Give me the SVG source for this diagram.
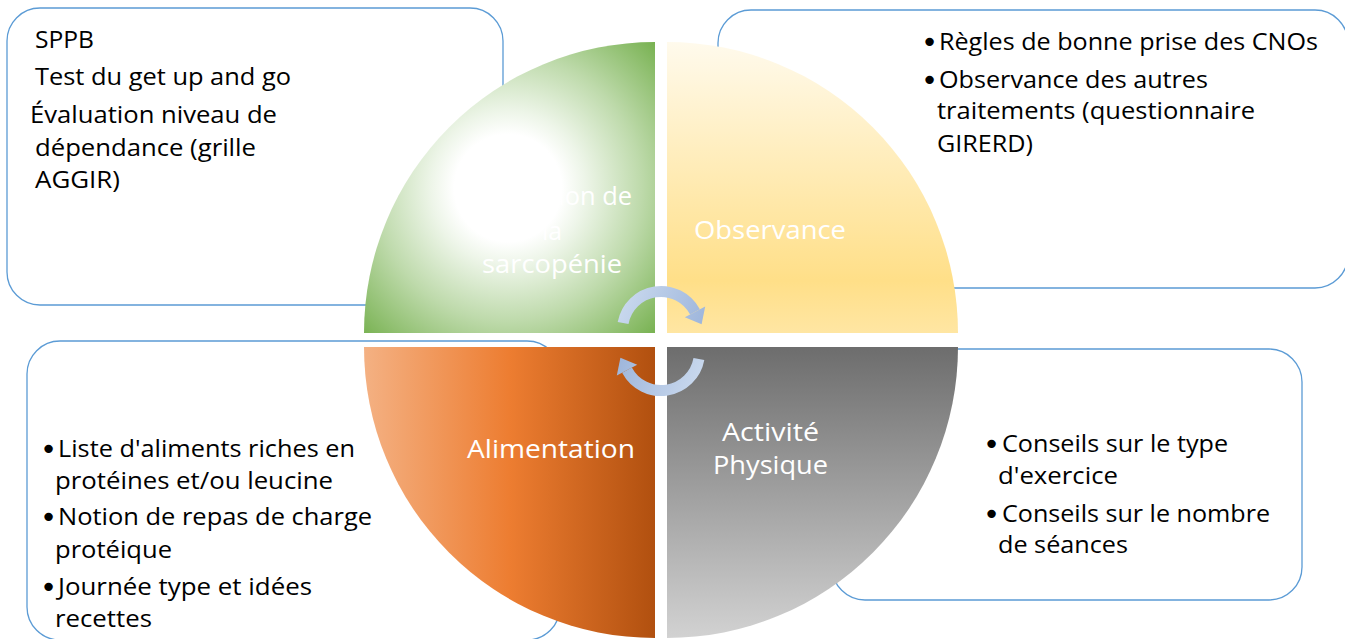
<svg xmlns="http://www.w3.org/2000/svg" width="1345" height="639" viewBox="0 0 1345 639">
<style>
.box{fill:#fff;stroke:#5B9BD5;stroke-width:1.3}
.t{font-family:"Open Sans","Liberation Sans",sans-serif;font-size:24px;fill:#000}
.b{font-family:"DejaVu Sans",sans-serif;font-size:29px;fill:#000}
.w{font-family:"Open Sans","Liberation Sans",sans-serif;font-size:25px;fill:#fff}
</style>
<defs>
<radialGradient id="gGreen" gradientUnits="userSpaceOnUse" cx="508" cy="188" r="215">
<stop offset="0" stop-color="#FFFFFF"/>
<stop offset="0.25" stop-color="#FFFFFF"/>
<stop offset="0.36" stop-color="#EDF5E8"/>
<stop offset="0.62" stop-color="#BEDAAB"/>
<stop offset="1" stop-color="#70AD47"/>
</radialGradient>
<linearGradient id="gYellow" gradientUnits="userSpaceOnUse" x1="0" y1="43" x2="0" y2="333">
<stop offset="0" stop-color="#FFFAEC"/>
<stop offset="0.82" stop-color="#FFDF88"/>
<stop offset="1" stop-color="#FFE6A3"/>
</linearGradient>
<linearGradient id="gOrange" gradientUnits="userSpaceOnUse" x1="364" y1="0" x2="655" y2="0">
<stop offset="0" stop-color="#F4B183"/>
<stop offset="0.5" stop-color="#ED7D31"/>
<stop offset="1" stop-color="#B1500F"/>
</linearGradient>
<linearGradient id="gGray" gradientUnits="userSpaceOnUse" x1="0" y1="347" x2="0" y2="638">
<stop offset="0" stop-color="#6D6D6D"/>
<stop offset="1" stop-color="#D2D2D2"/>
</linearGradient>
<linearGradient id="gArrow" gradientUnits="userSpaceOnUse" x1="620" y1="290" x2="705" y2="325">
<stop offset="0" stop-color="#CCDBEF"/>
<stop offset="1" stop-color="#9DB5DB"/>
</linearGradient>
<g id="cyc">
<path d="M623.1,323 A38.5,38.5 0 0 1 695,311.9" fill="none" stroke="url(#gArrow)" stroke-width="11"/>
<polygon points="705.2,306.5 684.8,317.3 701.6,324.3" fill="url(#gArrow)"/>
</g>
</defs>

<g id="box-evaluation">
<rect class="box" x="7" y="8" width="496" height="297" rx="33"/>
<text class="t" x="35" y="48" textLength="59" lengthAdjust="spacingAndGlyphs">SPPB</text>
<text class="t" x="35" y="85" textLength="256" lengthAdjust="spacingAndGlyphs">Test du get up and go</text>
<text class="t" x="30" y="123" textLength="247" lengthAdjust="spacingAndGlyphs">Évaluation niveau de</text>
<text class="t" x="35" y="156" textLength="221" lengthAdjust="spacingAndGlyphs">dépendance (grille</text>
<text class="t" x="35" y="188" textLength="85" lengthAdjust="spacingAndGlyphs">AGGIR)</text>
</g>

<g id="box-observance">
<rect class="box" x="718" y="10" width="630" height="278" rx="33"/>
<text class="b" x="921" y="52">•</text>
<text class="t" x="939" y="50" textLength="379" lengthAdjust="spacingAndGlyphs">Règles de bonne prise des CNOs</text>
<text class="b" x="921" y="90">•</text>
<text class="t" x="939" y="88" textLength="269" lengthAdjust="spacingAndGlyphs">Observance des autres</text>
<text class="t" x="937" y="119" textLength="318" lengthAdjust="spacingAndGlyphs">traitements (questionnaire</text>
<text class="t" x="937" y="152" textLength="96" lengthAdjust="spacingAndGlyphs">GIRERD)</text>
</g>

<g id="box-alimentation">
<rect class="box" x="27" y="341" width="533" height="299" rx="33"/>
<text class="b" x="40" y="459">•</text>
<text class="t" x="58" y="457" textLength="297" lengthAdjust="spacingAndGlyphs">Liste d'aliments riches en</text>
<text class="t" x="55" y="489" textLength="278" lengthAdjust="spacingAndGlyphs">protéines et/ou leucine</text>
<text class="b" x="40" y="527">•</text>
<text class="t" x="58" y="525" textLength="314" lengthAdjust="spacingAndGlyphs">Notion de repas de charge</text>
<text class="t" x="55" y="558" textLength="117" lengthAdjust="spacingAndGlyphs">protéique</text>
<text class="b" x="40" y="597">•</text>
<text class="t" x="58" y="595" textLength="254" lengthAdjust="spacingAndGlyphs">Journée type et idées</text>
<text class="t" x="55" y="627" textLength="97" lengthAdjust="spacingAndGlyphs">recettes</text>
</g>

<g id="box-activite">
<rect class="box" x="832" y="349" width="470" height="251" rx="33"/>
<text class="b" x="983" y="454">•</text>
<text class="t" x="1002" y="452" textLength="226" lengthAdjust="spacingAndGlyphs">Conseils sur le type</text>
<text class="t" x="998" y="484" textLength="120" lengthAdjust="spacingAndGlyphs">d'exercice</text>
<text class="b" x="983" y="524">•</text>
<text class="t" x="1002" y="522" textLength="268" lengthAdjust="spacingAndGlyphs">Conseils sur le nombre</text>
<text class="t" x="998" y="553" textLength="130" lengthAdjust="spacingAndGlyphs">de séances</text>
</g>

<g id="node-evaluation">
<path d="M655,333 L364,333 A291,291 0 0 1 655,42 Z" fill="url(#gGreen)"/>
<text class="w" x="472" y="205" textLength="160" lengthAdjust="spacingAndGlyphs">Évaluation de</text>
<text class="w" x="542" y="240" textLength="20" lengthAdjust="spacingAndGlyphs">la</text>
<text class="w" x="482" y="273" textLength="140" lengthAdjust="spacingAndGlyphs">sarcopénie</text>
</g>

<g id="node-observance">
<path d="M667,333 L667,42 A291,291 0 0 1 958,333 Z" fill="url(#gYellow)"/>
<text class="w" x="694" y="239" textLength="152" lengthAdjust="spacingAndGlyphs">Observance</text>
</g>

<g id="node-alimentation">
<path d="M655,347 L655,638 A291,291 0 0 1 364,347 Z" fill="url(#gOrange)"/>
<text class="w" x="467" y="458" textLength="168" lengthAdjust="spacingAndGlyphs">Alimentation</text>
</g>

<g id="node-activite">
<path d="M667,347 L958,347 A291,291 0 0 1 667,638 Z" fill="url(#gGray)"/>
<text class="w" x="722" y="441" textLength="97" lengthAdjust="spacingAndGlyphs">Activité</text>
<text class="w" x="713" y="474" textLength="115" lengthAdjust="spacingAndGlyphs">Physique</text>
</g>

<g id="connectors">
<use href="#cyc"/>
<use href="#cyc" transform="rotate(180 661 341)"/>
</g>
</svg>
